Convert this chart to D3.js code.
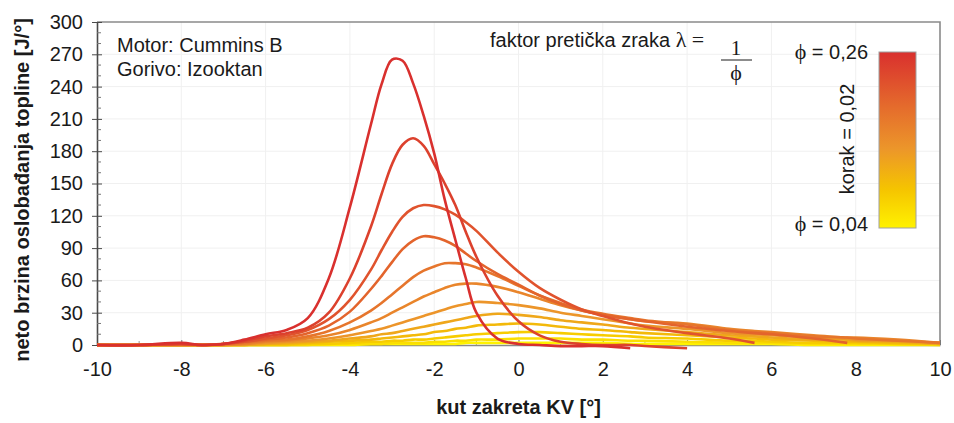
<!DOCTYPE html>
<html>
<head>
<meta charset="utf-8">
<script src="https://cdn.jsdelivr.net/npm/d3@7"></script>
<style>
  html, body { margin: 0; padding: 0; background: #fff; }
  svg { display: block; }
  text { font-family: "Liberation Sans", Arial, sans-serif; fill: #1a1a1a; }
  .serif { font-family: "Liberation Serif", "DejaVu Serif", "Times New Roman", serif; }
</style>
</head>
<body>
<svg id="chart" width="954" height="423"></svg>
<script>
// Crank angle grid shared by all curves [°]
const angles = [-10, -9, -8, -7.5, -7, -6.5, -6, -5.5, -5, -4.5, -4, -3.5, -3.25, -3, -2.75,
  -2.5, -2.25, -2, -1.75, -1.5, -1.25, -1, -0.5, 0, 0.5, 1, 1.5, 2, 2.65, 3, 4, 5, 5.6, 6, 7, 7.8, 8, 9, 10];

// Equivalence ratio of each curve
const phiValues = [0.04, 0.06, 0.08, 0.10, 0.12, 0.14, 0.16, 0.18, 0.20, 0.22, 0.24, 0.26];

// Net heat release rate [J/°] per phi (null = curve already ended)
const hrr004 = [0, 0, 0, 0, 0, 0, 0, 0, 0, 0, 0, 1, 1, 1, 1, 1, 1, 1, 1, 1, 2, 2, 2, 2, 2, 2, 2, 2, 1, 1, 1, 1, 1, 1, 0, 0, 0, 0, 0];
const hrr006 = [0, 0, 0, 0, 0, 0, 0, 0, 0, 1, 1, 1, 1, 2, 2, 2, 2, 3, 3, 4, 4, 5, 5, 6, 6, 6, 5, 5, 4, 4, 3, 2, 2, 2, 1, 1, 1, 1, 0];
const hrr008 = [0, 0, 0, 0, 0, 0, 0, 0, 1, 1, 2, 3, 3, 4, 4, 5, 5, 6, 7, 8, 9, 10, 11, 12, 12, 11, 10, 9, 8, 7, 6, 4, 4, 3, 2, 2, 2, 1, 1];
const hrr010 = [0, 0, 0, 0, 0, 0, 1, 1, 2, 3, 4, 5, 6, 7, 8, 9, 10, 12, 13, 15, 16, 18, 19, 20, 19, 17, 15, 14, 12, 11, 9, 7, 6, 5, 4, 3, 3, 2, 1];
const hrr012 = [0, 0, 0, 0, 0, 0, 1, 2, 3, 4, 6, 8, 10, 11, 13, 15, 17, 19, 21, 23, 25, 27, 29, 28, 26, 23, 21, 19, 16, 15, 12, 9, 8, 7, 5, 5, 4, 3, 1];
const hrr014 = [0, 0, 0, 0, 0, 1, 2, 3, 4, 6, 9, 13, 15, 18, 21, 24, 27, 30, 33, 36, 38, 40, 39, 37, 34, 30, 27, 24, 20, 18, 15, 11, 10, 9, 7, 6, 5, 4, 2];
const hrr016 = [0, 0, 0, 0, 0, 1, 3, 4, 6, 9, 14, 21, 25, 30, 35, 40, 45, 49, 53, 56, 57, 57, 54, 49, 43, 37, 32, 28, 24, 22, 20, 15, 13, 12, 9, 7, 7, 5, 2];
const hrr018 = [0, 0, 0, 0, 1, 2, 4, 5, 8, 13, 21, 32, 39, 47, 55, 63, 69, 73, 76, 76, 75, 72, 64, 55, 46, 39, 33, 29, 25, 23, 19, 14, 12, 11, 8, 7, 6, 4, 2];
const hrr020 = [0, 0, 1, 0, 1, 3, 5, 7, 11, 18, 31, 52, 64, 77, 89, 97, 101, 100, 97, 92, 85, 78, 66, 56, 46, 38, 32, 28, 24, 22, 17, 13, 11, 10, 6, 2, null, null, null];
const hrr022 = [0, 0, 1, 0, 1, 3, 6, 9, 14, 24, 42, 70, 88, 105, 119, 127, 130, 129, 126, 121, 114, 106, 86, 68, 53, 42, 33, 27, 20, 17, 11, 6, 2, null, null, null, null, null, null];
const hrr024 = [0, 0, 1, 0, 1, 4, 8, 11, 16, 30, 62, 110, 140, 168, 186, 192, 185, 168, 150, 130, 105, 82, 46, 22, 9, 3, 1, 0, 0, -1, -3, null, null, null, null, null, null, null, null];
const hrr026 = [0, 0, 2, 0, 1, 5, 10, 14, 25, 62, 128, 205, 242, 265, 264, 243, 213, 178, 135, 98, 62, 30, 6, 1, 0, -1, -1, -1, -3, null, null, null, null, null, null, null, null, null, null];

const seriesValues = [hrr004, hrr006, hrr008, hrr010, hrr012, hrr014, hrr016, hrr018, hrr020, hrr022, hrr024, hrr026];

const xTicks = [-10, -8, -6, -4, -2, 0, 2, 4, 6, 8, 10];
const yTicks = [0, 30, 60, 90, 120, 150, 180, 210, 240, 270, 300];

const svg = d3.select("#chart");
const W = 954, H = 423;
const pLeft = 97, pRight = 940, pTop = 22, pBottom = 345;

const x = d3.scaleLinear().domain([-10, 10]).range([pLeft, pRight]);
const y = d3.scaleLinear().domain([0, 300]).range([pBottom, pTop]);

// Colour ramp: yellow (lean) -> orange -> red (rich)
const colorStops = [
  { t: 0.0, c: "#fff200" },
  { t: 0.22, c: "#f5c400" },
  { t: 0.45, c: "#ec962a" },
  { t: 0.68, c: "#e56d2c" },
  { t: 1.0, c: "#d9302e" }
];
const ramp = d3.scaleLinear()
  .domain(colorStops.map(s => s.t))
  .range(colorStops.map(s => s.c))
  .interpolate(d3.interpolateRgb);
const phiColor = d3.scaleLinear().domain([0.04, 0.26]).range([0, 1]);

svg.append("rect").attr("width", W).attr("height", H).attr("fill", "#fff");

// light grid
const grid = svg.append("g").attr("stroke", "#f0f0f0").attr("stroke-width", 1);
grid.selectAll("line.v").data(xTicks.slice(1, -1)).join("line")
  .attr("x1", d => x(d)).attr("x2", d => x(d)).attr("y1", pTop).attr("y2", pBottom);
grid.selectAll("line.h").data(yTicks.slice(1, -1)).join("line")
  .attr("x1", pLeft).attr("x2", pRight).attr("y1", d => y(d)).attr("y2", d => y(d));

// frame (top + right)
svg.append("path")
  .attr("d", `M${pLeft},${pTop}H${pRight}V${pBottom}`)
  .attr("fill", "none").attr("stroke", "#8a8a8a").attr("stroke-width", 1.6);

// x axis
const xAxis = svg.append("g").attr("transform", `translate(0,${pBottom})`)
  .call(d3.axisBottom(x).tickValues(xTicks).tickSizeInner(-5).tickSizeOuter(0).tickPadding(17)
    .tickFormat(d => String(d)));
xAxis.select(".domain").attr("stroke", "#8a8a8a").attr("stroke-width", 1.6);
xAxis.selectAll(".tick line").attr("stroke", "#777");
xAxis.selectAll("text").attr("font-size", 20).attr("fill", "#1a1a1a")
  .attr("font-family", "Liberation Sans, Arial, sans-serif");
// minor x ticks
svg.append("g").selectAll("line").data(d3.range(-9, 10, 2)).join("line")
  .attr("x1", d => x(d)).attr("x2", d => x(d)).attr("y1", pBottom).attr("y2", pBottom - 4)
  .attr("stroke", "#999");

// y axis
const yAxis = svg.append("g").attr("transform", `translate(${pLeft},0)`)
  .call(d3.axisLeft(y).tickValues(yTicks).tickSizeInner(5).tickSizeOuter(0).tickPadding(9)
    .tickFormat(d => String(d)));
yAxis.select(".domain").attr("stroke", "#4a4a4a").attr("stroke-width", 1.6);
yAxis.selectAll(".tick line").attr("stroke", "#4a4a4a").attr("x2", 5).attr("x1", -5);
yAxis.selectAll("text").attr("font-size", 20).attr("fill", "#1a1a1a")
  .attr("font-family", "Liberation Sans, Arial, sans-serif");
// minor y ticks
const minorY = d3.range(10, 300, 10).filter(v => v % 30 !== 0);
svg.append("g").selectAll("line").data(minorY).join("line")
  .attr("x1", pLeft).attr("x2", pLeft + 4).attr("y1", d => y(d)).attr("y2", d => y(d))
  .attr("stroke", "#777");

// curves
const line = d3.line()
  .defined(d => d.v !== null)
  .x(d => x(d.a)).y(d => y(d.v))
  .curve(d3.curveCatmullRom.alpha(0.5));

const plot = svg.append("g");
seriesValues.forEach((vals, i) => {
  const pts = angles.map((a, j) => ({ a, v: vals[j] }));
  plot.append("path")
    .datum(pts)
    .attr("d", line)
    .attr("fill", "none")
    .attr("stroke", ramp(phiColor(phiValues[i])))
    .attr("stroke-width", 2.6)
    .attr("stroke-linejoin", "round");
});

// annotations
svg.append("text").attr("x", 117).attr("y", 52).attr("font-size", 20).text("Motor: Cummins B");
svg.append("text").attr("x", 117).attr("y", 76).attr("font-size", 20).text("Gorivo: Izooktan");

const f = svg.append("text").attr("x", 490).attr("y", 47).attr("font-size", 20);
f.append("tspan").text("faktor pretička zraka ");
f.append("tspan").attr("class", "serif").attr("font-size", 22).text("λ = ");
svg.append("text").attr("class", "serif").attr("x", 736).attr("y", 55).attr("font-size", 21)
  .attr("text-anchor", "middle").text("1");
svg.append("line").attr("x1", 721).attr("x2", 752).attr("y1", 60).attr("y2", 60)
  .attr("stroke", "#1a1a1a").attr("stroke-width", 1);
svg.append("text").attr("class", "serif").attr("x", 736).attr("y", 80).attr("font-size", 22)
  .attr("text-anchor", "middle").text("ϕ");

// legend colour bar
const defs = svg.append("defs");
const grad = defs.append("linearGradient").attr("id", "phiGrad")
  .attr("x1", 0).attr("y1", 1).attr("x2", 0).attr("y2", 0);
grad.selectAll("stop").data(colorStops).join("stop")
  .attr("offset", d => d.t).attr("stop-color", d => d.c);

const barX = 879, barY = 52, barW = 37, barH = 176;
svg.append("rect").attr("x", barX).attr("y", barY).attr("width", barW).attr("height", barH)
  .attr("fill", "url(#phiGrad)").attr("stroke", "#a0a0a0").attr("stroke-width", 1);

const lt = svg.append("text").attr("x", 868).attr("y", 59).attr("font-size", 20).attr("text-anchor", "end");
lt.append("tspan").attr("class", "serif").attr("font-size", 22).text("ϕ");
lt.append("tspan").text(" = 0,26");
const lb = svg.append("text").attr("x", 868).attr("y", 231).attr("font-size", 20).attr("text-anchor", "end");
lb.append("tspan").attr("class", "serif").attr("font-size", 22).text("ϕ");
lb.append("tspan").text(" = 0,04");
svg.append("text").attr("transform", "translate(854,139) rotate(-90)")
  .attr("font-size", 20).attr("text-anchor", "middle").text("korak = 0,02");

// axis titles
svg.append("text").attr("x", (pLeft + pRight) / 2).attr("y", 414).attr("text-anchor", "middle")
  .attr("font-size", 20).attr("font-weight", "bold").text("kut zakreta KV [°]");
svg.append("text").attr("transform", "translate(29,190) rotate(-90)")
  .attr("text-anchor", "middle").attr("font-size", 20).attr("font-weight", "bold")
  .text("neto brzina oslobađanja topline [J/°]");
</script>
</body>
</html>
